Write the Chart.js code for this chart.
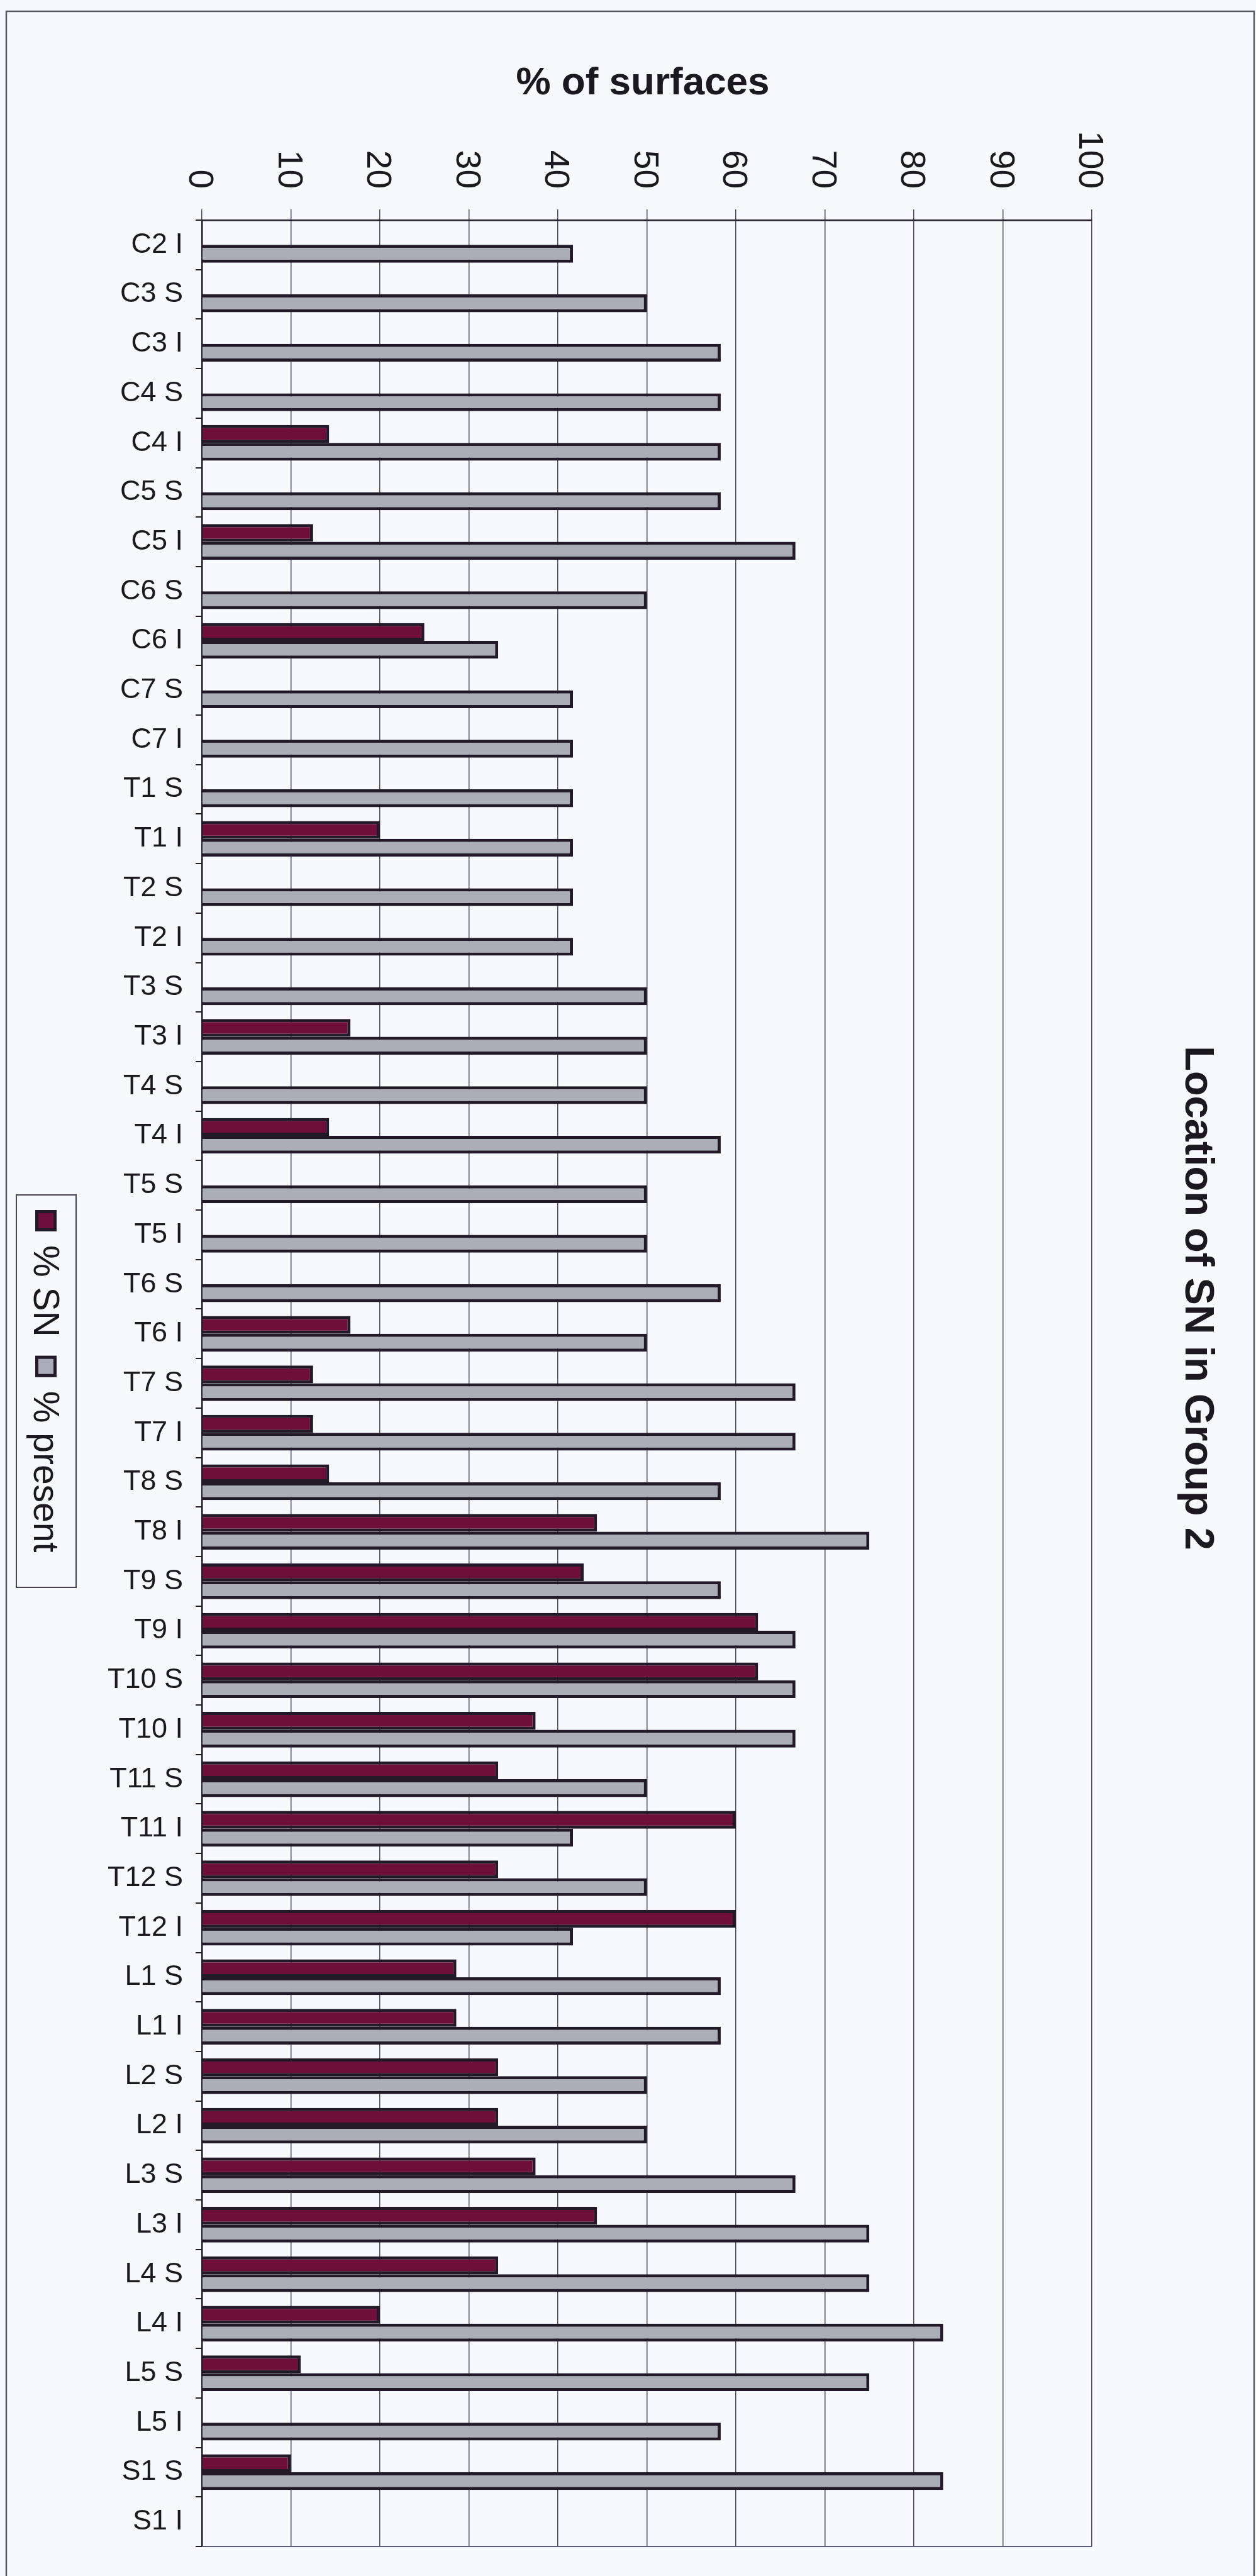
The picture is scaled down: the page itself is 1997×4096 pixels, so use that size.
<!DOCTYPE html>
<html>
<head>
<meta charset="utf-8">
<title>Location of SN in Group 2</title>
<script src="https://cdn.jsdelivr.net/npm/chart.js@4.4.1/dist/chart.umd.min.js"></script>
<style>
  html, body { margin: 0; padding: 0; background: #f7f9fd; }
  #wrap { width: 1997px; height: 4096px; }
</style>
</head>
<body>
<div id="wrap"><canvas id="snChart" width="1997" height="4096"></canvas></div>
<script>
// vertebral levels, superior (S) and inferior (I) surfaces
const levels = ['C2 I', 'C3 S', 'C3 I', 'C4 S', 'C4 I', 'C5 S', 'C5 I', 'C6 S', 'C6 I', 'C7 S', 'C7 I',
  'T1 S', 'T1 I', 'T2 S', 'T2 I', 'T3 S', 'T3 I', 'T4 S', 'T4 I', 'T5 S', 'T5 I', 'T6 S', 'T6 I',
  'T7 S', 'T7 I', 'T8 S', 'T8 I', 'T9 S', 'T9 I', 'T10 S', 'T10 I', 'T11 S', 'T11 I', 'T12 S', 'T12 I',
  'L1 S', 'L1 I', 'L2 S', 'L2 I', 'L3 S', 'L3 I', 'L4 S', 'L4 I', 'L5 S', 'L5 I', 'S1 S', 'S1 I'];

const pctSN = [0, 0, 0, 0, 14.3, 0, 12.5, 0, 25, 0, 0,
  0, 20, 0, 0, 0, 16.7, 0, 14.3, 0, 0, 0, 16.7,
  12.5, 12.5, 14.3, 44.4, 42.9, 62.5, 62.5, 37.5, 33.3, 60, 33.3, 60,
  28.6, 28.6, 33.3, 33.3, 37.5, 44.4, 33.3, 20, 11.1, 0, 10, 0];

const pctPresent = [41.7, 50, 58.3, 58.3, 58.3, 58.3, 66.7, 50, 33.3, 41.7, 41.7,
  41.7, 41.7, 41.7, 41.7, 50, 50, 50, 58.3, 50, 50, 58.3, 50,
  66.7, 66.7, 58.3, 75, 58.3, 66.7, 66.7, 66.7, 50, 41.7, 50, 41.7,
  58.3, 58.3, 50, 50, 66.7, 75, 75, 83.3, 75, 58.3, 83.3, 0];

const xTicks = [0, 10, 20, 30, 40, 50, 60, 70, 80, 90, 100];

const seriesNames = ['% SN', '% present'];
const seriesColors = ['#6e0e3a', '#abadb9'];

const textColor = '#1c1820';
const lineColor = '#221a28';
const fontFamily = '"Liberation Sans", Arial, Helvetica, sans-serif';

// rotated tick labels, titles, legend and frame
const decorPlugin = {
  id: 'decor',
  beforeDraw(chart) {
    const ctx = chart.ctx;
    ctx.save();
    ctx.fillStyle = '#f7f9fd';
    ctx.fillRect(0, 0, chart.width, chart.height);
    ctx.restore();
  },
  afterDraw(chart) {
    const { ctx, chartArea } = chart;
    const xs = chart.scales.x;
    ctx.save();
    ctx.fillStyle = textColor;

    // x tick labels, turned a quarter clockwise
    const tickSize = 55;
    ctx.font = tickSize + 'px ' + fontFamily;
    ctx.textAlign = 'right';
    ctx.textBaseline = 'alphabetic';
    xTicks.forEach(v => {
      ctx.save();
      ctx.translate(xs.getPixelForValue(v), chartArea.top - 50);
      ctx.rotate(Math.PI / 2);
      ctx.fillText(String(v), 0, tickSize * 0.36);
      ctx.restore();
    });

    // axis title
    ctx.font = 'bold 62px ' + fontFamily;
    ctx.textAlign = 'center';
    ctx.fillText('% of surfaces', 1022, 150);

    // chart title on the right
    ctx.save();
    ctx.translate(1908, 2064);
    ctx.rotate(Math.PI / 2);
    ctx.font = 'bold 65px ' + fontFamily;
    ctx.textAlign = 'center';
    ctx.fillText('Location of SN in Group 2', 0, 65 * 0.36);
    ctx.restore();

    // bottom edge of plot
    ctx.strokeStyle = '#5e5a74';
    ctx.lineWidth = 2;
    ctx.beginPath();
    ctx.moveTo(chartArea.left, chartArea.bottom);
    ctx.lineTo(chartArea.right, chartArea.bottom);
    ctx.stroke();

    // legend box
    ctx.strokeStyle = '#4a4256';
    ctx.lineWidth = 2;
    ctx.strokeRect(26, 1900, 95, 624);

    const legSize = 57;
    ctx.font = legSize + 'px ' + fontFamily;
    ctx.textAlign = 'left';
    let y = 1924;
    seriesNames.forEach((name, i) => {
      ctx.fillStyle = seriesColors[i];
      ctx.fillRect(56, y, 34, 34);
      ctx.strokeStyle = lineColor;
      ctx.lineWidth = 5;
      ctx.strokeRect(58.5, y + 2.5, 29, 29);
      y += 56;
      ctx.save();
      ctx.translate(75, y);
      ctx.rotate(Math.PI / 2);
      ctx.fillStyle = textColor;
      ctx.fillText(name, 0, legSize * 0.36);
      ctx.restore();
      y += ctx.measureText(name).width + 30;
    });

    // outer frame
    ctx.strokeStyle = '#5a5664';
    ctx.lineWidth = 2.5;
    ctx.beginPath();
    ctx.moveTo(10, 4096);
    ctx.lineTo(10, 18);
    ctx.lineTo(1994, 18);
    ctx.lineTo(1994, 4096);
    ctx.stroke();
    ctx.restore();
  }
};

const ctx = document.getElementById('snChart').getContext('2d');

const snChart = new Chart(ctx, {
  type: 'bar',
  data: {
    labels: levels,
    datasets: [{
      label: seriesNames[0],
      data: pctSN,
      backgroundColor: seriesColors[0],
      borderColor: lineColor,
      borderWidth: 5,
      categoryPercentage: 0.72,
      barPercentage: 1.0
    }, {
      label: seriesNames[1],
      data: pctPresent,
      backgroundColor: seriesColors[1],
      borderColor: lineColor,
      borderWidth: 5,
      categoryPercentage: 0.72,
      barPercentage: 1.0
    }]
  },
  options: {
    indexAxis: 'y',
    responsive: false,
    animation: false,
    devicePixelRatio: 1,
    layout: {
      padding: { top: 0, left: 0, right: 261, bottom: 31 }
    },
    plugins: {
      legend: { display: false },
      title: { display: false },
      tooltip: { enabled: false }
    },
    scales: {
      x: {
        position: 'top',
        min: 0,
        max: 100,
        ticks: { display: false, stepSize: 10 },
        grid: {
          color: '#4b4660',
          lineWidth: 1.5,
          tickLength: 17,
          drawTicks: true
        },
        border: { color: lineColor, width: 2.5 },
        afterFit(scale) { scale.height = 350; }
      },
      y: {
        ticks: {
          autoSkip: false,
          color: textColor,
          padding: 20,
          font: { family: fontFamily, size: 45 }
        },
        grid: {
          drawOnChartArea: false,
          tickLength: 10,
          color: lineColor,
          lineWidth: 2
        },
        border: { color: lineColor, width: 2.5 },
        afterFit(scale) { scale.width = 321; }
      }
    }
  },
  plugins: [decorPlugin]
});
</script>
</body>
</html>
